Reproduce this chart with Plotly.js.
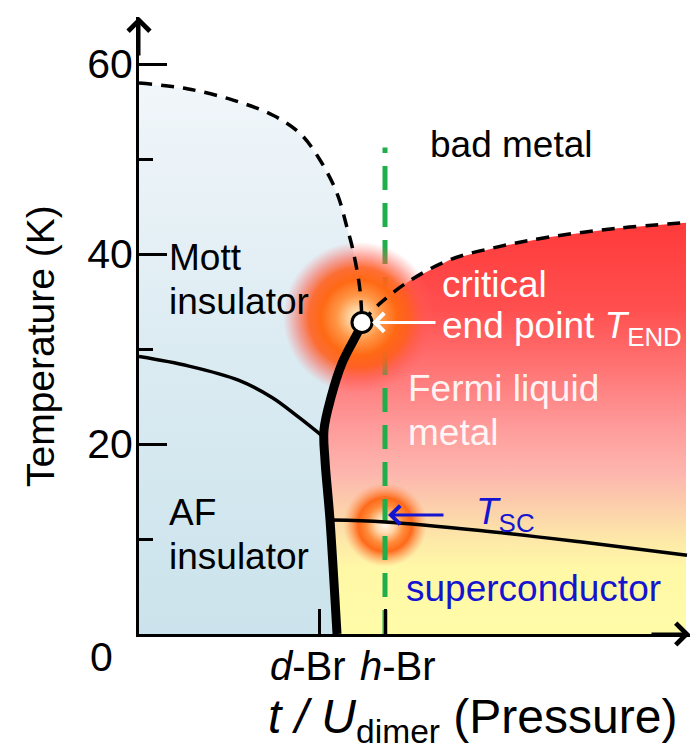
<!DOCTYPE html>
<html><head><meta charset="utf-8">
<script src="https://cdn.plot.ly/plotly-3.0.1.min.js"></script>
<style>html,body{margin:0;padding:0;background:#fff}</style>
</head><body><div id="chart" style="width:693px;height:750px"></div>
<script>
// ---- data (x: t/U_dimer in arbitrary units, T in K) ----
const leftCrossX  = [0, 48, 94, 134, 161, 181, 198, 208, 214, 221, 223];
const leftCrossT  = [58.0, 57.4, 56.2, 54.6, 52.7, 49.9, 46.4, 42.8, 40.4, 36.2, 32.8];
const rightCrossX = [223, 241, 271, 311, 361, 411, 478, 547];
const rightCrossT = [32.8, 34.8, 37.2, 39.4, 40.8, 41.8, 42.7, 43.3];
const mottX = [198, 191, 186, 185, 192, 203, 220, 223];
const mottT = [0, 12.0, 18.3, 21.5, 24.9, 28.5, 32.0, 32.8];
const neelX = [0, 50, 100, 133, 160, 185];
const neelT = [29.2, 28.2, 26.7, 24.9, 22.8, 20.7];
const scX = [192, 246, 341, 441, 548];
const scT = [12.0, 11.8, 10.9, 9.7, 8.3];
const endX = [223], endT = [32.8];
const hBrX = 246, dBrX = 180;
const glowX = [220, 246], glowT = [33.3, 11.5];
const yTickVals = [20, 40, 60], yTickText = ['20', '40', '60'], yMinorVals = [10, 30, 50];
const xTickVals = [dBrX, hBrX], xTickText = ['<i>d</i>-Br', '<i>h</i>-Br'];
const greenTopT = 51.2;

// ---- layout geometry ----
const W = 693, H = 750, ML = 139, MR = 3, MT = 17, MB = 116;
const plotW = W - ML - MR, plotH = H - MT - MB;
const KY = 9.5;                       // px per K
const xMax = plotW, yMax = plotH / KY;
const kx = plotW / xMax, ky = plotH / yMax;
const X = px => (px - ML) / kx;
const Y = py => (H - MB - py) / ky;
const PX = px => (px - ML) / plotW;
const PY = py => (H - MB - py) / plotH;
const FONT = 'Liberation Sans, Arial, sans-serif';
const glowR = [76, 42];

function circlePoly(cx, cy, r) {
  const xs = [], ys = [];
  for (let i = 0; i <= 72; i++) {
    const a = i / 72 * 2 * Math.PI;
    xs.push(cx + r * Math.cos(a) / kx);
    ys.push(cy + r * Math.sin(a) / ky);
  }
  return {xs, ys};
}

const base = {hoverinfo: 'skip', showlegend: false};
const traces = [];
// blue insulating region
traces.push(Object.assign({}, base, {
  x: [0].concat(leftCrossX, mottX.slice().reverse(), [0]),
  y: [0].concat(leftCrossT, mottT.slice().reverse(), [0]),
  mode: 'none', fill: 'toself',
  fillgradient: {type: 'vertical', start: 0, stop: 58,
    colorscale: [[0, '#cbe3ec'], [0.5, '#dbebf2'], [1, '#f1f6fa']]}
}));
// metallic region
traces.push(Object.assign({}, base, {
  x: rightCrossX.concat([rightCrossX[rightCrossX.length - 1]], mottX),
  y: rightCrossT.concat([0], mottT),
  mode: 'none', fill: 'toself',
  fillgradient: {type: 'vertical', start: 0, stop: 43.3,
    colorscale: [[0, '#fffca8'], [0.16, '#fff8a6'], [0.23, '#fde8a8'], [0.30, '#fcd2ab'],
                 [0.39, '#fdb6ae'], [0.51, '#fe9999'], [0.65, '#ff7373'], [0.79, '#ff4f4f'], [1, '#ff3a3a']]}
}));
// small glow
let g = circlePoly(glowX[1], glowT[1], glowR[1]);
traces.push(Object.assign({}, base, {
  x: g.xs, y: g.ys, mode: 'none', fill: 'toself',
  fillgradient: {type: 'radial', colorscale: [[0, 'rgba(255,250,240,1)'], [0.22, 'rgba(255,215,170,1)'],
    [0.45, 'rgba(255,140,60,1)'], [0.64, 'rgba(255,105,25,1)'], [0.82, 'rgba(255,125,55,0.5)'], [1, 'rgba(255,150,100,0)']]}
}));
// green h-Br line
traces.push(Object.assign({}, base, {
  x: [hBrX, hBrX], y: [0, greenTopT], mode: 'lines',
  line: {color: '#1fae4a', width: 5, dash: '24px,13px'}
}));
// big glow
g = circlePoly(glowX[0], glowT[0], glowR[0]);
traces.push(Object.assign({}, base, {
  x: g.xs, y: g.ys, mode: 'none', fill: 'toself',
  fillgradient: {type: 'radial', colorscale: [[0, 'rgba(255,238,212,1)'], [0.12, 'rgba(255,212,160,1)'],
    [0.3, 'rgba(255,150,70,1)'], [0.5, 'rgba(255,105,20,1)'], [0.66, 'rgba(255,95,30,0.9)'],
    [0.82, 'rgba(255,90,70,0.5)'], [1, 'rgba(255,100,100,0)']]}
}));
// lines
const dashed = {color: '#000', width: 3.5, dash: '13px,9px', shape: 'spline'};
traces.push(Object.assign({}, base, {x: leftCrossX, y: leftCrossT, mode: 'lines', line: dashed}));
traces.push(Object.assign({}, base, {x: rightCrossX, y: rightCrossT, mode: 'lines', line: dashed}));
traces.push(Object.assign({}, base, {x: neelX, y: neelT, mode: 'lines', line: {color: '#000', width: 3.5, shape: 'spline'}}));
traces.push(Object.assign({}, base, {x: scX, y: scT, mode: 'lines', line: {color: '#000', width: 3.5, shape: 'spline'}}));
traces.push(Object.assign({}, base, {x: mottX, y: mottT, mode: 'lines', line: {color: '#000', width: 9, shape: 'spline'}}));
traces.push(Object.assign({}, base, {x: endX, y: endT, mode: 'markers',
  marker: {size: 20, color: '#fff', line: {color: '#000', width: 3}}}));

function txt(text, px, py, size, color, extra) {
  return Object.assign({text, x: X(px), y: Y(py), xref: 'x', yref: 'y', showarrow: false,
    xanchor: 'left', yanchor: 'middle', font: {family: FONT, size, color}}, extra || {});
}
function ptxt(text, px, py, size, extra) {
  return Object.assign({text, x: PX(px), y: PY(py), xref: 'paper', yref: 'paper', showarrow: false,
    xanchor: 'center', yanchor: 'middle', font: {family: FONT, size, color: '#000'}}, extra || {});
}
const S = 37;
const annotations = [
  // axis arrows
  {x: xMax, y: 0, xref: 'x', yref: 'y', ax: -40, ay: 0, text: '', showarrow: true,
   arrowhead: 4, arrowsize: 1.4, arrowwidth: 3, arrowcolor: '#000'},
  {x: 0, y: yMax, xref: 'x', yref: 'y', ax: 0, ay: 40, text: '', showarrow: true,
   arrowhead: 4, arrowsize: 1.4, arrowwidth: 3, arrowcolor: '#000'},
  // pointer arrows
  {x: X(372), y: endT[0], xref: 'x', yref: 'y', ax: 65, ay: 0, text: '', showarrow: true,
   arrowhead: 4, arrowsize: 1.2, arrowwidth: 3, arrowcolor: '#fff'},
  {x: X(388), y: Y(515), xref: 'x', yref: 'y', ax: 57, ay: 0, text: '', showarrow: true,
   arrowhead: 4, arrowsize: 1.2, arrowwidth: 3, arrowcolor: '#1515d0'},
  // region labels
  txt('bad metal', 428, 144, S, '#000'),
  txt('Mott', 167, 257, S, '#000'),
  txt('insulator', 167, 301, S, '#000'),
  txt('critical', 440, 284, S, '#fff'),
  txt('end point <i>T</i><sub>END</sub>', 440, 328, S, '#fff'),
  txt('Fermi liquid', 406, 388, S, 'rgba(255,255,255,0.93)'),
  txt('metal', 406, 432, S, 'rgba(255,255,255,0.93)'),
  txt('AF', 167, 512, S, '#000'),
  txt('insulator', 167, 556, S, '#000'),
  txt('<i>T</i><sub>SC</sub>', 474, 514, S, '#1515d0'),
  txt('superconductor', 404, 588, S, '#1515d0'),
  // x tick labels
  ptxt(xTickText[0], 308, 666, 40),
  ptxt(xTickText[1], 398, 666, 40),
  // zero label
  ptxt('0', 101, 657, 41),
  // axis titles
  ptxt('<i>t</i> <i>/ U</i><sub>dimer</sub> (Pressure)', 472, 720, 48),
  ptxt('Temperature (K)', 40, 346, 39, {textangle: -90})
];

const layout = {
  width: W, height: H, margin: {l: ML, r: MR, t: MT, b: MB, pad: 0},
  paper_bgcolor: '#fff', plot_bgcolor: '#fff',
  xaxis: {range: [0, xMax], showline: true, linewidth: 3, linecolor: '#000', mirror: false,
    showgrid: false, zeroline: false, ticks: 'inside', tickmode: 'array', tickvals: xTickVals,
    showticklabels: false, ticklen: 25, tickwidth: 3, tickcolor: '#000', fixedrange: true},
  yaxis: {range: [0, yMax], showline: true, linewidth: 3, linecolor: '#000',
    showgrid: false, zeroline: false, ticks: 'inside', tickmode: 'array', tickvals: yTickVals,
    ticktext: yTickText, ticklen: 28, tickwidth: 3, tickcolor: '#000', ticklabelstandoff: -5,
    tickfont: {family: FONT, size: 41, color: '#000'},
    minor: {tickmode: 'array', tickvals: yMinorVals, ticks: 'inside', ticklen: 14, tickwidth: 3, tickcolor: '#000', showgrid: false},
    fixedrange: true},
  annotations
};
Plotly.newPlot('chart', traces, layout, {displayModeBar: false, staticPlot: true});
</script></body></html>
